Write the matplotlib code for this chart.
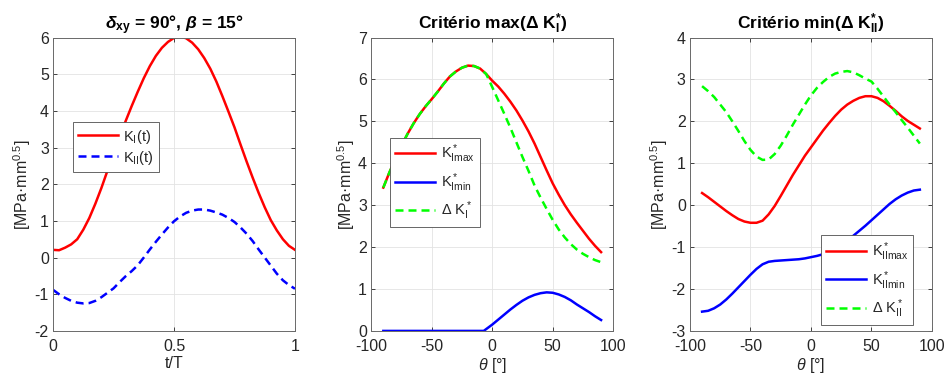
import matplotlib
matplotlib.use('Agg')
import matplotlib.pyplot as plt

plt.rcParams['font.family'] = ['Liberation Sans', 'DejaVu Sans']
plt.rcParams['mathtext.fontset'] = 'custom'
plt.rcParams['mathtext.rm'] = 'Liberation Sans'
plt.rcParams['mathtext.it'] = 'Liberation Sans:italic'
plt.rcParams['mathtext.bf'] = 'Liberation Sans:bold'
plt.rcParams['mathtext.sf'] = 'Liberation Sans:italic:bold'
plt.rcParams['axes.unicode_minus'] = False

# --- painel 1: K_I(t), K_II(t) ---
t = [0.000, 0.025, 0.050, 0.075, 0.100, 0.125, 0.150, 0.175, 0.200, 0.225,
     0.250, 0.275, 0.300, 0.325, 0.350, 0.375, 0.400, 0.425, 0.450, 0.475,
     0.500, 0.525, 0.550, 0.575, 0.600, 0.625, 0.650, 0.675, 0.700, 0.725,
     0.750, 0.775, 0.800, 0.825, 0.850, 0.875, 0.900, 0.925, 0.950, 0.975, 1.000]
KI_t = [0.21, 0.20, 0.27, 0.36, 0.50, 0.76, 1.08, 1.47, 1.90, 2.37,
        2.85, 3.30, 3.72, 4.13, 4.52, 4.89, 5.22, 5.50, 5.72, 5.88,
        5.99, 6.03, 5.98, 5.86, 5.68, 5.44, 5.15, 4.80, 4.40, 3.98,
        3.55, 3.08, 2.62, 2.18, 1.76, 1.37, 1.02, 0.74, 0.50, 0.32, 0.21]
KII_t = [-0.88, -1.00, -1.10, -1.18, -1.23, -1.25, -1.24, -1.18, -1.08, -0.96,
         -0.84, -0.67, -0.51, -0.37, -0.21, 0.00, 0.22, 0.43, 0.63, 0.82,
         0.99, 1.12, 1.22, 1.28, 1.31, 1.31, 1.28, 1.23, 1.17, 1.08,
         0.97, 0.82, 0.65, 0.45, 0.22, 0.00, -0.22, -0.44, -0.62, -0.75, -0.85]

# --- painel 2: criterio max(dK_I) ---
theta = [-90, -85, -80, -75, -70, -65, -60, -55, -50, -45, -40, -35, -30,
         -25, -20, -15, -10, -5, 0, 5, 10, 15, 20, 25, 30, 35, 40, 45, 50,
         55, 60, 65, 70, 75, 80, 85, 90]
KImax = [3.42, 3.78, 4.10, 4.42, 4.70, 4.95, 5.17, 5.36, 5.53, 5.71, 5.90,
         6.07, 6.19, 6.28, 6.33, 6.32, 6.26, 6.13, 5.97, 5.83, 5.66, 5.47,
         5.26, 5.02, 4.76, 4.47, 4.15, 3.83, 3.52, 3.25, 3.00, 2.78, 2.58,
         2.39, 2.20, 2.03, 1.88]
theta_Imin = [-90, -7, 0, 5, 10, 15, 20, 25, 30, 35, 40, 45, 50, 55, 60,
              65, 70, 75, 80, 85, 90]
KImin = [0.00, 0.00, 0.15, 0.27, 0.39, 0.51, 0.62, 0.72, 0.80, 0.86, 0.90,
         0.92, 0.91, 0.87, 0.81, 0.73, 0.63, 0.54, 0.45, 0.35, 0.26]
dKI = [3.42, 3.78, 4.10, 4.42, 4.70, 4.95, 5.17, 5.36, 5.53, 5.71, 5.90,
       6.07, 6.19, 6.28, 6.33, 6.32, 6.26, 6.13, 5.82, 5.50, 5.18, 4.85,
       4.50, 4.15, 3.82, 3.47, 3.18, 2.91, 2.65, 2.42, 2.23, 2.07, 1.94,
       1.84, 1.76, 1.69, 1.64]

# --- painel 3: criterio min(dK_II) ---
KIImax = [0.29, 0.19, 0.08, -0.03, -0.14, -0.24, -0.33, -0.39, -0.42, -0.42,
          -0.37, -0.22, -0.02, 0.22, 0.47, 0.72, 0.95, 1.18, 1.38, 1.58,
          1.78, 1.96, 2.13, 2.28, 2.40, 2.49, 2.56, 2.60, 2.60, 2.56, 2.48,
          2.37, 2.25, 2.12, 2.01, 1.92, 1.83]
KIImin = [-2.54, -2.52, -2.46, -2.37, -2.25, -2.11, -1.96, -1.81, -1.66,
          -1.52, -1.41, -1.35, -1.33, -1.32, -1.31, -1.30, -1.29, -1.27,
          -1.24, -1.21, -1.17, -1.11, -1.03, -0.94, -0.84, -0.73, -0.61,
          -0.49, -0.36, -0.23, -0.10, 0.03, 0.14, 0.23, 0.30, 0.35, 0.37]
dKII = [2.84, 2.72, 2.58, 2.40, 2.22, 2.00, 1.77, 1.53, 1.32, 1.16, 1.08,
        1.09, 1.22, 1.42, 1.66, 1.92, 2.16, 2.40, 2.62, 2.80, 2.94, 3.06,
        3.14, 3.18, 3.20, 3.17, 3.10, 3.02, 2.95, 2.78, 2.59, 2.40, 2.22,
        2.03, 1.85, 1.66, 1.47]

RED, BLUE, GREEN = '#ff0000', '#0000ff', '#00ff00'
LW = 1.8
DASH = (3.2, 2.0)
TXT = '#262626'
FS = 11.5

fig = plt.figure(figsize=(9.47, 3.83), dpi=100)
w, h, b = 0.2555, 0.766, 0.136
ax1 = fig.add_axes([0.056, b, w, h])
ax2 = fig.add_axes([0.392, b, w, h])
ax3 = fig.add_axes([0.7286, b, w, h])


def style(ax, yt):
    ax.set_yticks(yt)
    ax.set_ylim(yt[0], yt[-1])
    ax.grid(True, color='#e3e3e3', lw=0.6)
    ax.set_axisbelow(True)
    ax.tick_params(direction='in', length=3, width=0.6, labelsize=FS,
                   colors=TXT, top=True, right=True, labeltop=False,
                   labelright=False)
    ax.tick_params(axis='x', pad=6)
    ax.tick_params(axis='y', pad=3)
    for s in ax.spines.values():
        s.set_color('#6a6a6a')
        s.set_linewidth(0.7)
    ax.set_ylabel('[MPa·mm$^{0.5}$]', fontsize=FS, color=TXT, labelpad=1)


def leg(ax, spacing, **kw):
    lg = ax.legend(fontsize=10.5, frameon=True, fancybox=False, framealpha=1,
                   edgecolor='#4d4d4d', handlelength=2.7, borderpad=0.35,
                   labelspacing=spacing, handletextpad=0.4, borderaxespad=0,
                   **kw)
    lg.get_frame().set_linewidth(0.6)
    for tx in lg.get_texts():
        tx.set_color(TXT)


# painel 1
ax1.plot(t, KI_t, color=RED, lw=LW, label='K$_{\\rm I}$(t)')
ax1.plot(t, KII_t, color=BLUE, lw=LW, ls=(0, DASH), label='K$_{\\rm II}$(t)')
ax1.set_xlim(0, 1)
ax1.set_xticks([0, 0.5, 1])
ax1.set_xticklabels(['0', '0.5', '1'])
style(ax1, [-2, -1, 0, 1, 2, 3, 4, 5, 6])
ax1.set_xlabel('t/T', fontsize=FS, color=TXT, labelpad=1)
ax1.set_title(r'$\mathsf{\delta}_{\mathbf{xy}}$ = 90°, $\mathsf{\beta}$ = 15°',
              fontsize=12.5, fontweight='bold', pad=6)
leg(ax1, 0.2, loc='lower left', bbox_to_anchor=(0.083, 0.543))

# painel 2
ax2.plot(theta, KImax, color=RED, lw=LW, label='K$^*_{\\rm Imax}$')
ax2.plot(theta_Imin, KImin, color=BLUE, lw=LW, label='K$^*_{\\rm Imin}$')
ax2.plot(theta, dKI, color=GREEN, lw=LW, ls=(0, DASH), label='Δ K$^*_{\\rm I}$')
ax2.set_xlim(-100, 100)
ax2.set_xticks([-100, -50, 0, 50, 100])
style(ax2, [0, 1, 2, 3, 4, 5, 6, 7])
ax2.set_xlabel(r'$\theta$ [°]', fontsize=FS, color=TXT, labelpad=1)
ax2.set_title('Critério max(Δ K$^\\mathbf{*}_\\mathbf{I}$)', fontsize=12.5,
              fontweight='bold', pad=6)
leg(ax2, 0.4, loc='lower left', bbox_to_anchor=(0.079, 0.353))

# painel 3
ax3.plot(theta, KIImax, color=RED, lw=LW, label='K$^*_{\\rm IImax}$')
ax3.plot(theta, KIImin, color=BLUE, lw=LW, label='K$^*_{\\rm IImin}$')
ax3.plot(theta, dKII, color=GREEN, lw=LW, ls=(0, DASH), label='Δ K$^*_{\\rm II}$')
ax3.set_xlim(-100, 100)
ax3.set_xticks([-100, -50, 0, 50, 100])
style(ax3, [-3, -2, -1, 0, 1, 2, 3, 4])
ax3.set_xlabel(r'$\theta$ [°]', fontsize=FS, color=TXT, labelpad=1)
ax3.set_title('Critério min(Δ K$^\\mathbf{*}_\\mathbf{II}$)', fontsize=12.5,
              fontweight='bold', pad=6)
leg(ax3, 0.4, loc='lower right', bbox_to_anchor=(0.923, 0.02))

fig.savefig('out.png', dpi=100)
